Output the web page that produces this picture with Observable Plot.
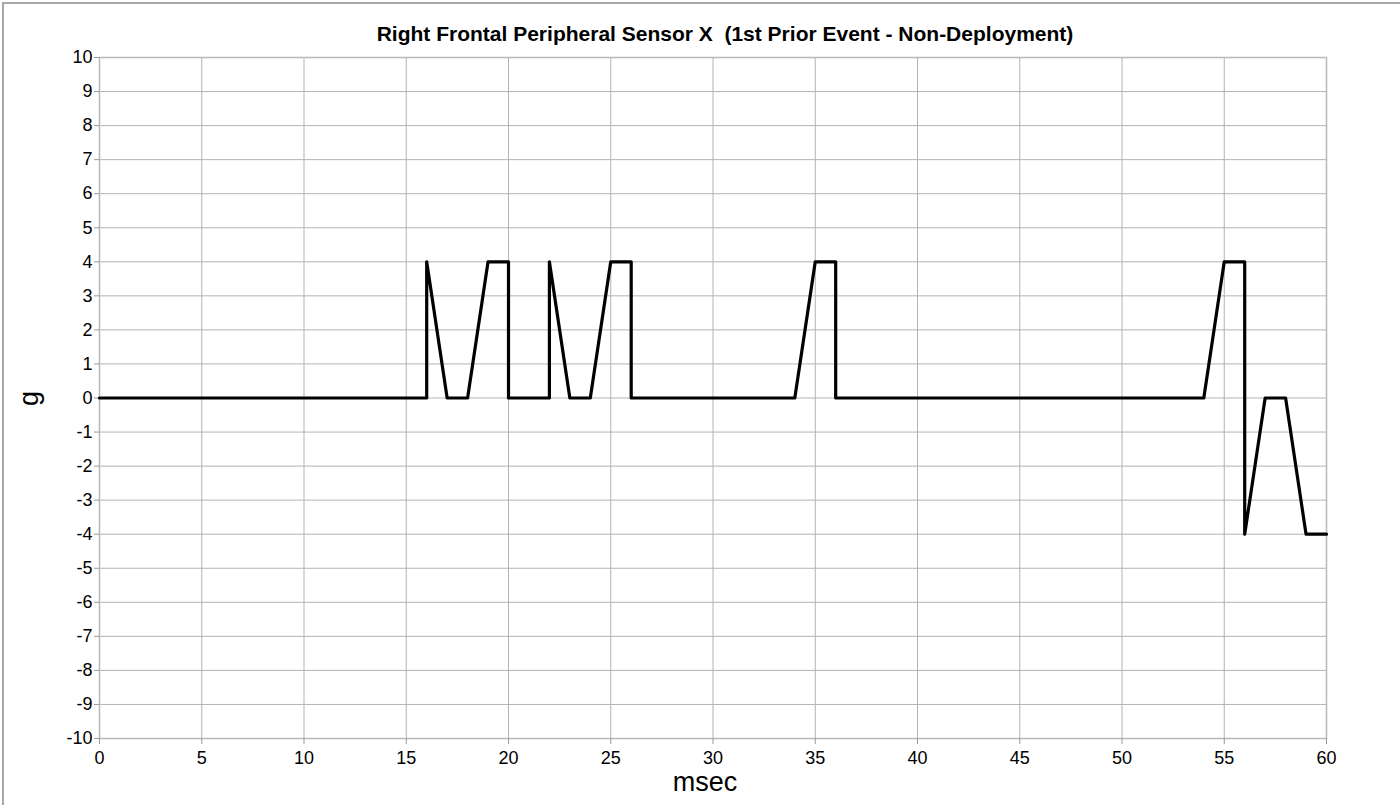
<!DOCTYPE html>
<html>
<head>
<meta charset="utf-8">
<script src="https://cdn.jsdelivr.net/npm/d3@7"></script>
<script src="https://cdn.jsdelivr.net/npm/@observablehq/plot@0.6"></script>
<style>
  html, body { margin: 0; padding: 0; background: #fff; }
  #wrap { position: relative; width: 1400px; height: 805px; overflow: hidden; }
  #border { position: absolute; left: 2px; top: 2px; width: 1400px; height: 805px;
            border-left: 2px solid #a8a8a8; border-top: 2px solid #a8a8a8; pointer-events: none; }
  #chart { position: absolute; left: 0; top: 0; }
</style>
</head>
<body>
<div id="wrap">
  <div id="chart"></div>
  <div id="border"></div>
</div>
<script>
const titleText = "Right Frontal Peripheral Sensor X  (1st Prior Event - Non-Deployment)";
const xLabel = "msec";
const yLabel = "g";
const xTicks = [0, 5, 10, 15, 20, 25, 30, 35, 40, 45, 50, 55, 60];
const yTicks = [-10, -9, -8, -7, -6, -5, -4, -3, -2, -1, 0, 1, 2, 3, 4, 5, 6, 7, 8, 9, 10];

// samples (duplicate msec values mark instantaneous jumps)
const msec = [0,1,2,3,4,5,6,7,8,9,10,11,12,13,14,15,16,16,17,18,19,20,20,21,22,22,23,24,25,26,26,27,28,29,30,31,32,33,34,35,36,36,37,38,39,40,41,42,43,44,45,46,47,48,49,50,51,52,53,54,55,56,56,57,58,59,60];
const gVals = [0,0,0,0,0,0,0,0,0,0,0,0,0,0,0,0,0,4,0,0,4,4,0,0,0,4,0,0,4,4,0,0,0,0,0,0,0,0,0,4,4,0,0,0,0,0,0,0,0,0,0,0,0,0,0,0,0,0,0,0,4,4,-4,0,0,-4,-4];

const data = msec.map((m, i) => ({msec: m, g: gVals[i]}));
const fmt = d => `${d}`;

const chart = Plot.plot({
  width: 1400,
  height: 805,
  marginLeft: 99,
  marginRight: 74,
  marginTop: 57,
  marginBottom: 67,
  x: {domain: [0, 60], ticks: xTicks, label: null},
  y: {domain: [-10, 10], ticks: yTicks, label: null},
  style: {fontFamily: "'Liberation Sans', Arial, sans-serif", fontSize: "18px", color: "#000", background: "white"},
  marks: [
    Plot.gridX(xTicks, {stroke: "#b3b3b3", strokeOpacity: 1, strokeWidth: 1}),
    Plot.gridY(yTicks, {stroke: "#b3b3b3", strokeOpacity: 1, strokeWidth: 1}),
    Plot.frame({stroke: "#b8b8b8", strokeWidth: 1.5}),
    Plot.axisX(xTicks, {tickSize: 6, tickPadding: 7, stroke: "#999", fill: "#000", fontSize: 18, tickFormat: fmt, label: null}),
    Plot.axisY(yTicks, {tickSize: 5, tickPadding: 2, stroke: "#999", fill: "#000", fontSize: 18, tickFormat: fmt, label: null}),
    Plot.line(data, {x: "msec", y: "g", stroke: "black", strokeWidth: 3.2}),
    Plot.text([titleText], {frameAnchor: "top", dx: 12, dy: -31, fontWeight: "bold", fontSize: 21, fill: "#000"}),
    Plot.text([xLabel], {frameAnchor: "bottom", dx: -8, dy: 52, fontSize: 27, fill: "#000"}),
    Plot.text([yLabel], {frameAnchor: "left", dx: -70, dy: 8, rotate: -90, fontSize: 27, fill: "#000"})
  ]
});
document.getElementById("chart").appendChild(chart);
</script>
</body>
</html>
